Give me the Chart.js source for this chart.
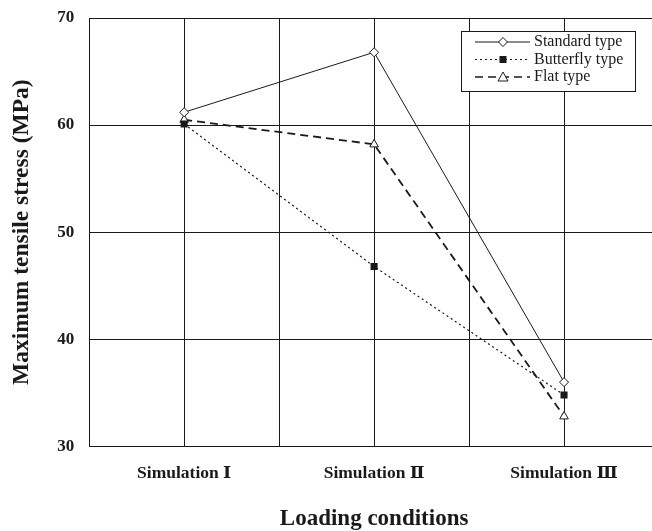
<!DOCTYPE html>
<html>
<head>
<meta charset="utf-8">
<script src="https://cdn.jsdelivr.net/npm/chart.js@4.4.0/dist/chart.umd.min.js"></script>
<style>
  html, body { margin: 0; padding: 0; background: #fff; overflow: hidden; }
  #wrap { width: 652px; height: 531px; overflow: hidden; }
</style>
</head>
<body>
<div id="wrap"><canvas id="grafico" width="662" height="533"></canvas></div>
<script>
// categories and series
const categories = ["Simulation \u2160", "Simulation \u2161", "Simulation \u2162"];
const standardType = [61.2, 66.8, 36.0];
const butterflyType = [60.1, 46.8, 34.8];
const flatType = [60.5, 58.2, 32.8];
const yTicks = [30, 40, 50, 60, 70];

const serif = "'Liberation Serif', 'DejaVu Serif', 'Times New Roman', serif";
const ink = "#1a1a1a";
const noTick = "rgba(0,0,0,0)";

function toPoints(arr) {
  return arr.map(function (v, i) { return { x: i, y: v }; });
}

// legend drawn by hand: line sample + marker + text
const legendBox = {
  id: "legendBox",
  afterDraw(chart) {
    const c = chart.ctx;
    const a = chart.chartArea;
    const bx = a.right - 198, by = a.top + 13, bw = 174, bh = 60;
    c.save();
    c.fillStyle = "#fff";
    c.fillRect(bx, by, bw, bh);
    c.strokeStyle = ink;
    c.lineWidth = 1;
    c.strokeRect(bx + 0.5, by + 0.5, bw, bh);

    const rows = [
      { text: "Standard type", dash: [], width: 1, marker: "diamond" },
      { text: "Butterfly type", dash: [2, 3], width: 1.2, marker: "square" },
      { text: "Flat type", dash: [8, 5], width: 1.6, marker: "triangle" }
    ];
    rows.forEach(function (r, i) {
      const y = by + 11 + i * 17.5;
      c.strokeStyle = ink;
      c.lineWidth = r.width;
      c.setLineDash(r.dash);
      c.beginPath();
      c.moveTo(bx + 14, y);
      c.lineTo(bx + 69, y);
      c.stroke();
      c.setLineDash([]);
      const mx = bx + 42;
      c.lineWidth = 1;
      c.beginPath();
      if (r.marker === "diamond") {
        c.moveTo(mx, y - 4.5); c.lineTo(mx + 4.5, y); c.lineTo(mx, y + 4.5); c.lineTo(mx - 4.5, y); c.closePath();
        c.fillStyle = "#fff"; c.fill(); c.stroke();
      } else if (r.marker === "square") {
        c.rect(mx - 3.5, y - 3.5, 7, 7);
        c.fillStyle = ink; c.fill();
      } else {
        c.moveTo(mx, y - 5); c.lineTo(mx + 5, y + 4); c.lineTo(mx - 5, y + 4); c.closePath();
        c.fillStyle = "#fff"; c.fill(); c.stroke();
      }
      c.fillStyle = ink;
      c.font = "16px " + serif;
      c.textBaseline = "middle";
      c.textAlign = "left";
      c.fillText(r.text, bx + 73, y);
    });
    c.restore();
  }
};

new Chart(document.getElementById("grafico"), {
  type: "line",
  data: {
    datasets: [
      {
        label: "Standard type",
        data: toPoints(standardType),
        borderColor: ink,
        borderWidth: 1,
        pointStyle: "rectRot",
        pointRadius: 4.5,
        pointBackgroundColor: "#fff",
        pointBorderColor: ink,
        pointBorderWidth: 1,
        tension: 0
      },
      {
        label: "Butterfly type",
        data: toPoints(butterflyType),
        borderColor: ink,
        borderWidth: 1.2,
        borderDash: [2, 3],
        pointStyle: "rect",
        pointRadius: 5,
        pointBackgroundColor: ink,
        pointBorderColor: ink,
        pointBorderWidth: 0,
        tension: 0
      },
      {
        label: "Flat type",
        data: toPoints(flatType),
        borderColor: ink,
        borderWidth: 1.8,
        borderDash: [8, 5],
        pointStyle: "triangle",
        pointRadius: 5,
        pointBackgroundColor: "#fff",
        pointBorderColor: ink,
        pointBorderWidth: 1,
        tension: 0
      }
    ]
  },
  options: {
    responsive: false,
    animation: false,
    layout: { autoPadding: false, padding: { top: 18, left: 4, right: 3, bottom: 0 } },
    plugins: {
      legend: { display: false },
      tooltip: { enabled: false }
    },
    scales: {
      x: {
        type: "linear",
        min: -0.5,
        max: 2.5,
        grid: { color: ink, lineWidth: 1, drawTicks: true, tickLength: 14, tickColor: noTick },
        border: { color: ink, width: 1 },
        ticks: {
          stepSize: 0.5,
          autoSkip: false,
          maxRotation: 0,
          padding: 3,
          color: ink,
          font: { family: serif, size: 17.5, weight: "bold" },
          callback: function (v) { return Number.isInteger(v) ? categories[v] : ""; }
        },
        title: {
          display: true,
          text: "Loading conditions",
          color: ink,
          font: { family: serif, size: 23, weight: "bold" },
          padding: { top: 18, bottom: 0 }
        }
      },
      y: {
        min: yTicks[0],
        max: yTicks[yTicks.length - 1],
        afterBuildTicks: function (axis) {
          axis.ticks = yTicks.map(function (v) { return { value: v }; });
        },
        grid: { color: ink, lineWidth: 1, drawTicks: true, tickLength: 12, tickColor: noTick },
        border: { color: ink, width: 1 },
        ticks: {
          padding: 3,
          color: ink,
          font: { family: serif, size: 17, weight: "bold" }
        },
        title: {
          display: true,
          text: "Maximum tensile stress (MPa)",
          color: ink,
          font: { family: serif, size: 23.5, weight: "bold" },
          padding: { top: 4, bottom: 18 }
        }
      }
    }
  },
  plugins: [legendBox]
});
</script>
</body>
</html>
